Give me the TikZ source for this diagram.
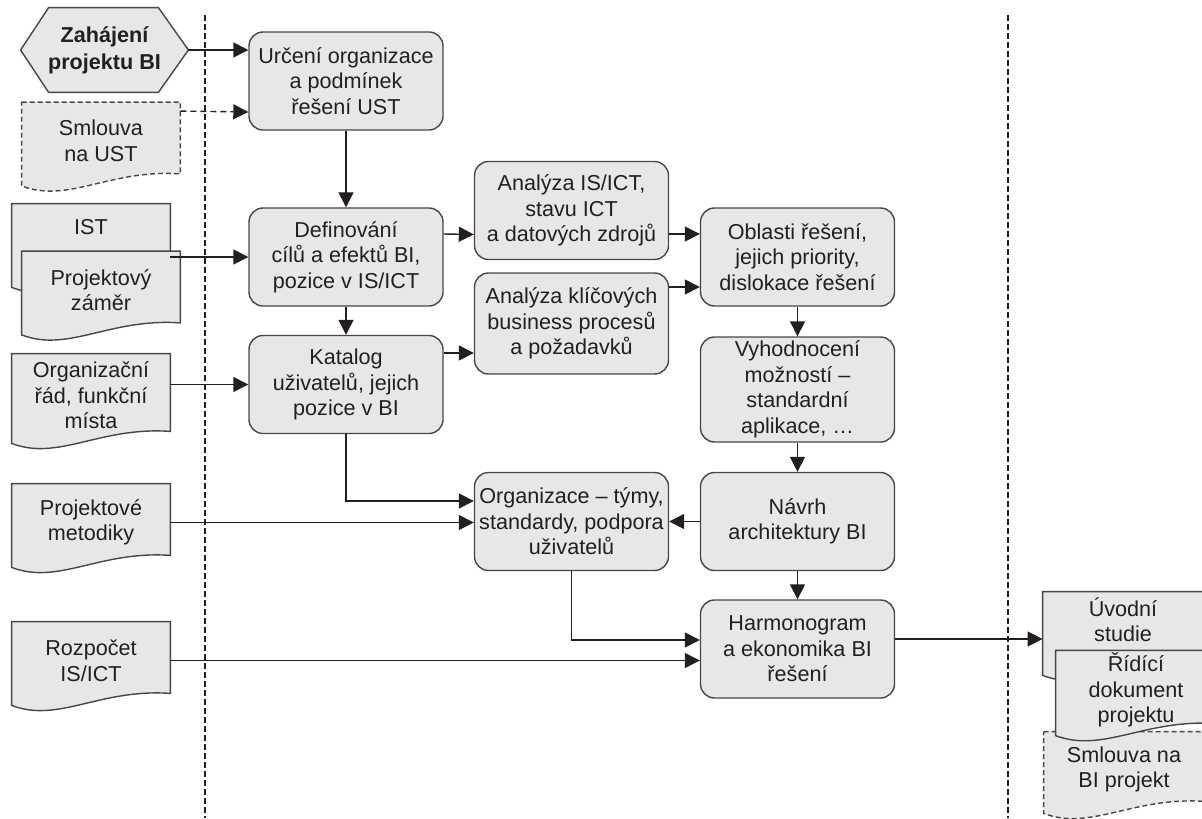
\documentclass[tikz,border=0pt]{standalone}
\usepackage{fontspec}
\setmainfont{Liberation Sans}
\usetikzlibrary{arrows.meta,backgrounds}

\definecolor{boxfill}{RGB}{230,231,233}
\definecolor{boxline}{RGB}{70,70,70}
\definecolor{ink}{RGB}{35,31,32}

\tikzset{
  proc/.style={draw=boxline,fill=boxfill,line width=0.7pt,rounded corners=7pt,
    minimum width=97pt,minimum height=49pt,align=center,inner sep=1pt,text=ink},
  doc/.style={minimum width=79pt,minimum height=38.5pt,align=center,inner sep=1pt,text=ink},
  docline/.style={draw=boxline,fill=boxfill,line width=0.7pt},
  flow/.style={-{Triangle[length=7.5pt,width=7.5pt]},draw=ink,line width=0.7pt},
  lane/.style={draw=ink,line width=0.6pt,dash pattern=on 3pt off 1.5pt}
}

% outline of a document with a wavy bottom, drawn round a node
\newcommand{\docoutline}[2][]{%
  \path[docline,#1] (#2.north west) -- (#2.north east) -- ([yshift=3pt]#2.south east)
    .. controls ([xshift=-35.5pt,yshift=5.5pt]#2.south east) and ([xshift=23.5pt,yshift=-12pt]#2.south west)
    .. ([yshift=-3pt]#2.south west) -- cycle;}

\begin{document}
\begin{tikzpicture}[x=0.5pt,y=-0.5pt,font=\fontsize{10.8}{12.75}\selectfont]
\useasboundingbox (0,0) rectangle (1202,818);

% lanes
\draw[lane] (205,15) -- (205,818);
\draw[lane] (1008,15) -- (1008,818);

% inputs
\node[minimum width=83.5pt,minimum height=42pt,inner sep=1pt,align=center,text=ink,
  font=\fontsize{10.8}{13.5}\selectfont\bfseries] (start) at (104.5,50) {Zahájení\\projektu BI};
\node[doc] (smlust) at (101,141) {Smlouva\\na UST};
\node[doc,text depth=15.5pt] (ist) at (91,242.5) {IST};
\node[doc] (zamer) at (101,290) {Projektový\\záměr};
\node[doc,minimum height=41.5pt] (organiz) at (91,395.5) {Organizační\\řád, funkční\\místa};
\node[doc] (metodiky) at (91,522.5) {Projektové\\metodiky};
\node[doc] (rozpocet) at (91,660.5) {Rozpočet\\IS/ICT};

% process steps
\node[proc] (urceni) at (346,81) {Určení organizace\\a podmínek\\řešení UST};
\node[proc] (definovani) at (346,257) {Definování\\cílů a efektů BI,\\pozice v IS/ICT};
\node[proc] (katalog) at (346,384.5) {Katalog\\uživatelů, jejich\\pozice v BI};
\node[proc] (analict) at (571.5,210.5) {Analýza IS/ICT,\\stavu ICT\\a datových zdrojů};
\node[proc,minimum height=50.5pt] (analkey) at (571.5,323.5) {Analýza klíčových\\business procesů\\a požadavků};
\node[proc] (oblasti) at (797.5,257) {Oblasti řešení,\\jejich priority,\\dislokace řešení};
\node[proc,minimum height=52.5pt] (vyhod) at (797.5,389.5) {Vyhodnocení\\možností –\\standardní\\aplikace, …};
\node[proc] (organizace) at (571.5,521.5) {Organizace – týmy,\\standardy, podpora\\uživatelů};
\node[proc] (navrh) at (797.5,521.5) {Návrh\\architektury BI};
\node[proc] (harmon) at (797.5,649) {Harmonogram\\a ekonomika BI\\řešení};

% outputs
\node[doc,minimum width=80pt,text depth=11pt] (uvodni) at (1123,630.5) {Úvodní\\studie};
\node[doc,minimum width=80pt] (ridici) at (1136,690) {Řídící\\dokument\\projektu};
\node[doc,minimum width=80pt,minimum height=37.5pt] (smlbi) at (1124,769.5) {Smlouva na\\BI projekt};

\begin{scope}[on background layer]
\path[docline] (start.west) -- ([xshift=14pt]start.north west) -- ([xshift=-15pt]start.north east)
  -- (start.east) -- ([xshift=-15pt]start.south east) -- ([xshift=14pt]start.south west) -- cycle;
\docoutline[dash pattern=on 2.5pt off 1.5pt]{smlust}
\docoutline{ist}
\docoutline{zamer}
\docoutline{organiz}
\docoutline{metodiky}
\docoutline{rozpocet}
\docoutline{uvodni}
\docoutline[dash pattern=on 2.5pt off 1.5pt]{smlbi}
\docoutline{ridici}
\end{scope}

% connectors
\draw[flow] (start.east) -- (start.east -| urceni.west);
\draw[flow,dash pattern=on 3pt off 2pt] ([yshift=-4.5pt]smlust.north east) -- ([yshift=-15.5pt]urceni.west);
\draw[flow] (ist.east |- definovani.west) -- (definovani.west);
\draw[flow] (organiz.east |- katalog.west) -- (katalog.west);
\draw[flow] (metodiky.east) -- (metodiky.east -| organizace.west);
\draw[flow] (rozpocet.east) -- (rozpocet.east -| harmon.west);
\draw[flow] (urceni) -- (definovani);
\draw[flow] (definovani) -- (katalog);
\draw[flow] ([yshift=11.5pt]definovani.east) -- ([yshift=-12pt]analict.west);
\draw[flow] ([yshift=15.75pt]katalog.east) -- ([yshift=-14.75pt]analkey.west);
\draw[flow] ([yshift=-11.75pt]analict.east) -- ([yshift=11.5pt]oblasti.west);
\draw[flow] ([yshift=18.25pt]analkey.east) -- ([yshift=-15pt]oblasti.west);
\draw[flow] (oblasti) -- (vyhod);
\draw[flow] (vyhod) -- (navrh);
\draw[flow] (navrh) -- (harmon);
\draw[flow] (navrh) -- (organizace);
\draw[flow] (katalog.south) |- ([yshift=10.25pt]organizace.west);
\draw[flow] (organizace.south) |- ([yshift=4.5pt]harmon.west);
\draw[flow] ([yshift=5pt]harmon.east) -- ([yshift=-4.25pt]uvodni.west);
\end{tikzpicture}
\end{document}
